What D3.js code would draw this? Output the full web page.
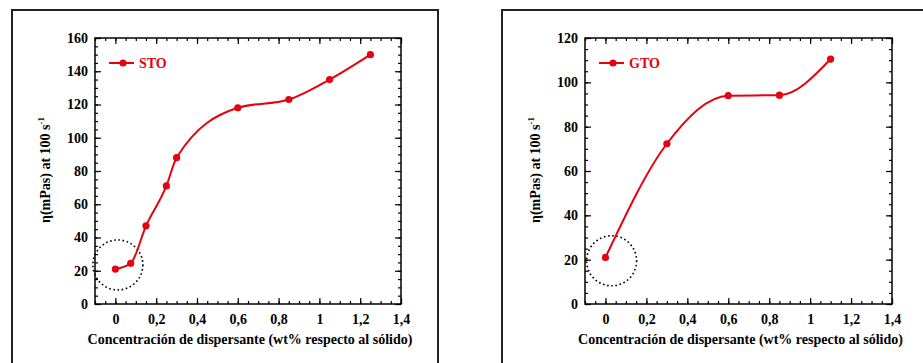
<!DOCTYPE html>
<html>
<head>
<meta charset="utf-8">
<script src="https://cdn.jsdelivr.net/npm/d3@7"></script>
<style>
  body { margin: 0; background: #fff; }
  svg { display: block; }
</style>
</head>
<body>
<div id="chart"></div>
<script>
// STO series
const stoX = [0, 0.075, 0.15, 0.25, 0.3, 0.6, 0.85, 1.05, 1.25];
const stoY = [21, 24.5, 47, 71, 88, 118, 123, 135, 150];
// GTO series
const gtoX = [0, 0.3, 0.6, 0.85, 1.1];
const gtoY = [21, 72.3, 94, 94.2, 110.5];

const xTicks = [0, 0.2, 0.4, 0.6, 0.8, 1, 1.2, 1.4];
const stoYTicks = [0, 20, 40, 60, 80, 100, 120, 140, 160];
const gtoYTicks = [0, 20, 40, 60, 80, 100, 120];

// dotted circle annotations (centre in data units)
const stoCircle = [0.012, 23.5];
const gtoCircle = [0.03, 19.5];

const xTitle = "Concentración de dispersante (wt% respecto al sólido)";
const red = "#e60010";
const FONT = "'Liberation Serif', 'Times New Roman', serif";

const W = 923, H = 363;
const svg = d3.select("#chart").append("svg")
    .attr("width", W).attr("height", H)
    .attr("font-family", FONT).attr("font-weight", "bold");

// outer frames
svg.append("rect").attr("x", 12).attr("y", 10).attr("width", 426).attr("height", 380)
    .attr("fill", "none").attr("stroke", "#222").attr("stroke-width", 2);
svg.append("rect").attr("x", 502).attr("y", 10).attr("width", 440).attr("height", 380)
    .attr("fill", "none").attr("stroke", "#222").attr("stroke-width", 2);

const fmt = d => String(d).replace(".", ",");

const drawPanel = (p) => {
    const x = d3.scaleLinear().domain([-0.1, 1.4]).range([p.left, p.right]);
    const y = d3.scaleLinear().domain([0, p.yMax]).range([304, 38]);
    const g = svg.append("g");

    const minorX = d3.range(-0.1, 1.4001, 0.05);
    const minorY = d3.range(0, p.yMax + 0.001, 5);

    const style = sel => {
        sel.attr("font-family", FONT).attr("font-size", 14).attr("font-weight", "bold");
        sel.select(".domain").remove();
        sel.selectAll("line").attr("stroke", "#000").attr("stroke-width", 1.2);
        sel.selectAll("text").attr("fill", "#000");
    };

    // minor ticks
    g.append("g").attr("transform", `translate(0,304)`)
        .call(d3.axisBottom(x).tickValues(minorX).tickSize(-3).tickFormat("")).call(style);
    g.append("g").attr("transform", `translate(0,38)`)
        .call(d3.axisTop(x).tickValues(minorX).tickSize(-3).tickFormat("")).call(style);
    g.append("g").attr("transform", `translate(${p.left},0)`)
        .call(d3.axisLeft(y).tickValues(minorY).tickSize(-3).tickFormat("")).call(style);
    g.append("g").attr("transform", `translate(${p.right},0)`)
        .call(d3.axisRight(y).tickValues(minorY).tickSize(-3).tickFormat("")).call(style);

    // major ticks
    g.append("g").attr("transform", `translate(0,304)`)
        .call(d3.axisBottom(x).tickValues(xTicks).tickSize(-6).tickPadding(10).tickFormat(fmt)).call(style);
    g.append("g").attr("transform", `translate(0,38)`)
        .call(d3.axisTop(x).tickValues(xTicks).tickSize(-6).tickFormat("")).call(style);
    g.append("g").attr("transform", `translate(${p.left},0)`)
        .call(d3.axisLeft(y).tickValues(p.yTicks).tickSize(-6).tickPadding(7)).call(style);
    g.append("g").attr("transform", `translate(${p.right},0)`)
        .call(d3.axisRight(y).tickValues(p.yTicks).tickSize(-6).tickFormat("")).call(style);

    // frame of plot area
    g.append("rect").attr("x", p.left).attr("y", 38)
        .attr("width", p.right - p.left).attr("height", 304 - 38)
        .attr("fill", "none").attr("stroke", "#000").attr("stroke-width", 1.5);

    // dotted circle
    g.append("circle").attr("cx", x(p.circle[0])).attr("cy", y(p.circle[1])).attr("r", 25)
        .attr("fill", "none").attr("stroke", "#000").attr("stroke-width", 1.6)
        .attr("stroke-dasharray", "1.6,2.6");

    const pts = p.xs.map((v, i) => [v, p.ys[i]]);
    const line = d3.line().x(d => x(d[0])).y(d => y(d[1])).curve(d3.curveMonotoneX);
    g.append("path").datum(pts).attr("d", line)
        .attr("fill", "none").attr("stroke", red).attr("stroke-width", 2);
    g.selectAll(".pt").data(pts).join("circle").attr("class", "pt")
        .attr("cx", d => x(d[0])).attr("cy", d => y(d[1])).attr("r", 3.6).attr("fill", red);

    // legend
    const lx = p.left + 14, ly = 63;
    g.append("line").attr("x1", lx).attr("x2", lx + 25).attr("y1", ly).attr("y2", ly)
        .attr("stroke", red).attr("stroke-width", 2);
    g.append("circle").attr("cx", lx + 14).attr("cy", ly).attr("r", 3.6).attr("fill", red);
    g.append("text").attr("x", lx + 30).attr("y", ly + 5).attr("font-size", 14)
        .attr("fill", red).text(p.name);

    // axis titles
    g.append("text").attr("x", (p.left + p.right) / 2 + 2).attr("y", 344)
        .attr("text-anchor", "middle").attr("font-size", 14).attr("fill", "#000").text(xTitle);
    const yt = g.append("text").attr("transform", `translate(${p.yTitleX},170) rotate(-90)`)
        .attr("text-anchor", "middle").attr("font-size", 14).attr("fill", "#000");
    yt.append("tspan").text("η(mPas) at 100 s");
    yt.append("tspan").attr("dy", -6).attr("font-size", 9).text("-1");
};

drawPanel({left: 95, right: 401, yMax: 160, yTicks: stoYTicks, xs: stoX, ys: stoY,
    circle: stoCircle, name: "STO", yTitleX: 50});
drawPanel({left: 585, right: 892, yMax: 120, yTicks: gtoYTicks, xs: gtoX, ys: gtoY,
    circle: gtoCircle, name: "GTO", yTitleX: 540});
</script>
</body>
</html>
